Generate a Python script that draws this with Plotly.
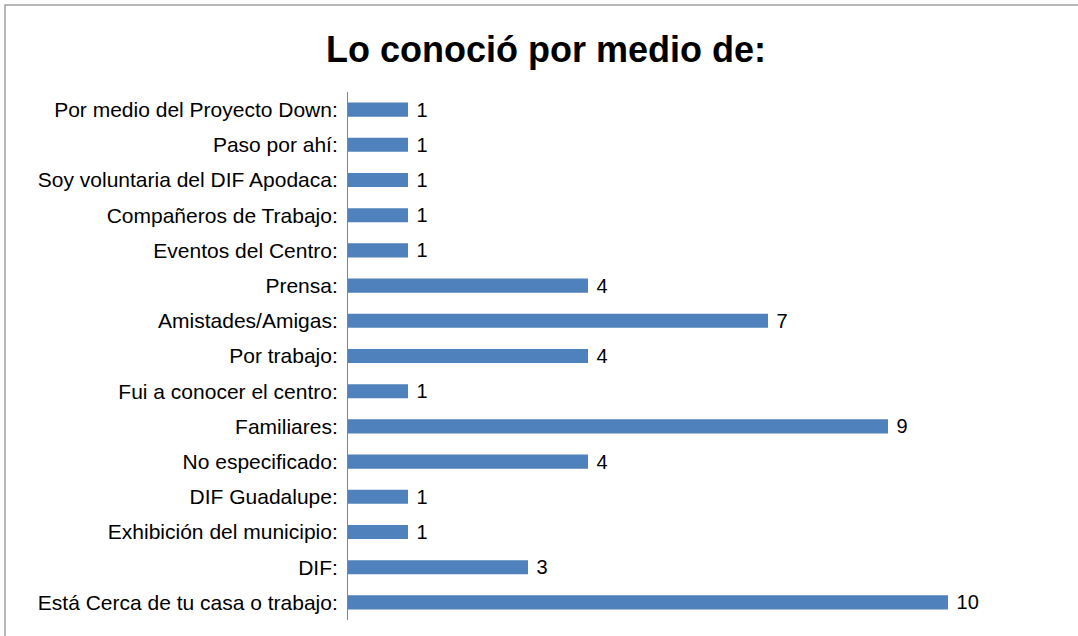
import plotly.graph_objects as go

categories = [
    "Está Cerca de tu casa o trabajo:",
    "DIF:",
    "Exhibición del municipio:",
    "DIF Guadalupe:",
    "No especificado:",
    "Familiares:",
    "Fui a conocer el centro:",
    "Por trabajo:",
    "Amistades/Amigas:",
    "Prensa:",
    "Eventos del Centro:",
    "Compañeros de Trabajo:",
    "Soy voluntaria del DIF Apodaca:",
    "Paso por ahí:",
    "Por medio del Proyecto Down:",
]
values = [10, 3, 1, 1, 4, 9, 1, 4, 7, 4, 1, 1, 1, 1, 1]

W, H = 1078, 636
L, R, T, B = 348, 10, 92, 16
FONT = "Liberation Sans, Arial, sans-serif"

fig = go.Figure()
fig.add_trace(
    go.Bar(
        y=categories,
        x=values,
        orientation="h",
        marker=dict(color="#4F81BD", line=dict(width=0)),
        texttemplate=" %{x}",
        textposition="outside",
        constraintext="none",
        textfont=dict(family=FONT, size=20, color="#000000"),
        cliponaxis=False,
        hoverinfo="y+x",
    )
)

fig.update_layout(
    width=W,
    height=H,
    margin=dict(l=L, r=R, t=T, b=B),
    paper_bgcolor="white",
    plot_bgcolor="white",
    bargap=0.6,
    showlegend=False,
    title=dict(
        text="<b>Lo conoció por medio de:</b>",
        x=546 / W,
        xanchor="center",
        y=1 - 49 / H,
        yanchor="middle",
        font=dict(family=FONT, size=36, color="#000000"),
    ),
    xaxis=dict(range=[0, 12], visible=False, fixedrange=True),
    yaxis=dict(
        showline=True,
        linecolor="#868686",
        linewidth=1,
        ticks="",
        showgrid=False,
        ticklabelstandoff=5,
        tickfont=dict(family=FONT, size=21, color="#000000"),
    ),
    shapes=[
        dict(
            type="rect",
            xref="paper",
            yref="paper",
            x0=(5 - L) / (W - L - R),
            x1=(1100 - L) / (W - L - R),
            y0=(H - B - 660) / (H - T - B),
            y1=(H - B - 5) / (H - T - B),
            line=dict(color="#A0A0A0", width=1.5),
        )
    ],
)

fig.write_html(
    "out.html",
    config={"displayModeBar": False},
    post_script="document.body.style.margin='0';",
)
